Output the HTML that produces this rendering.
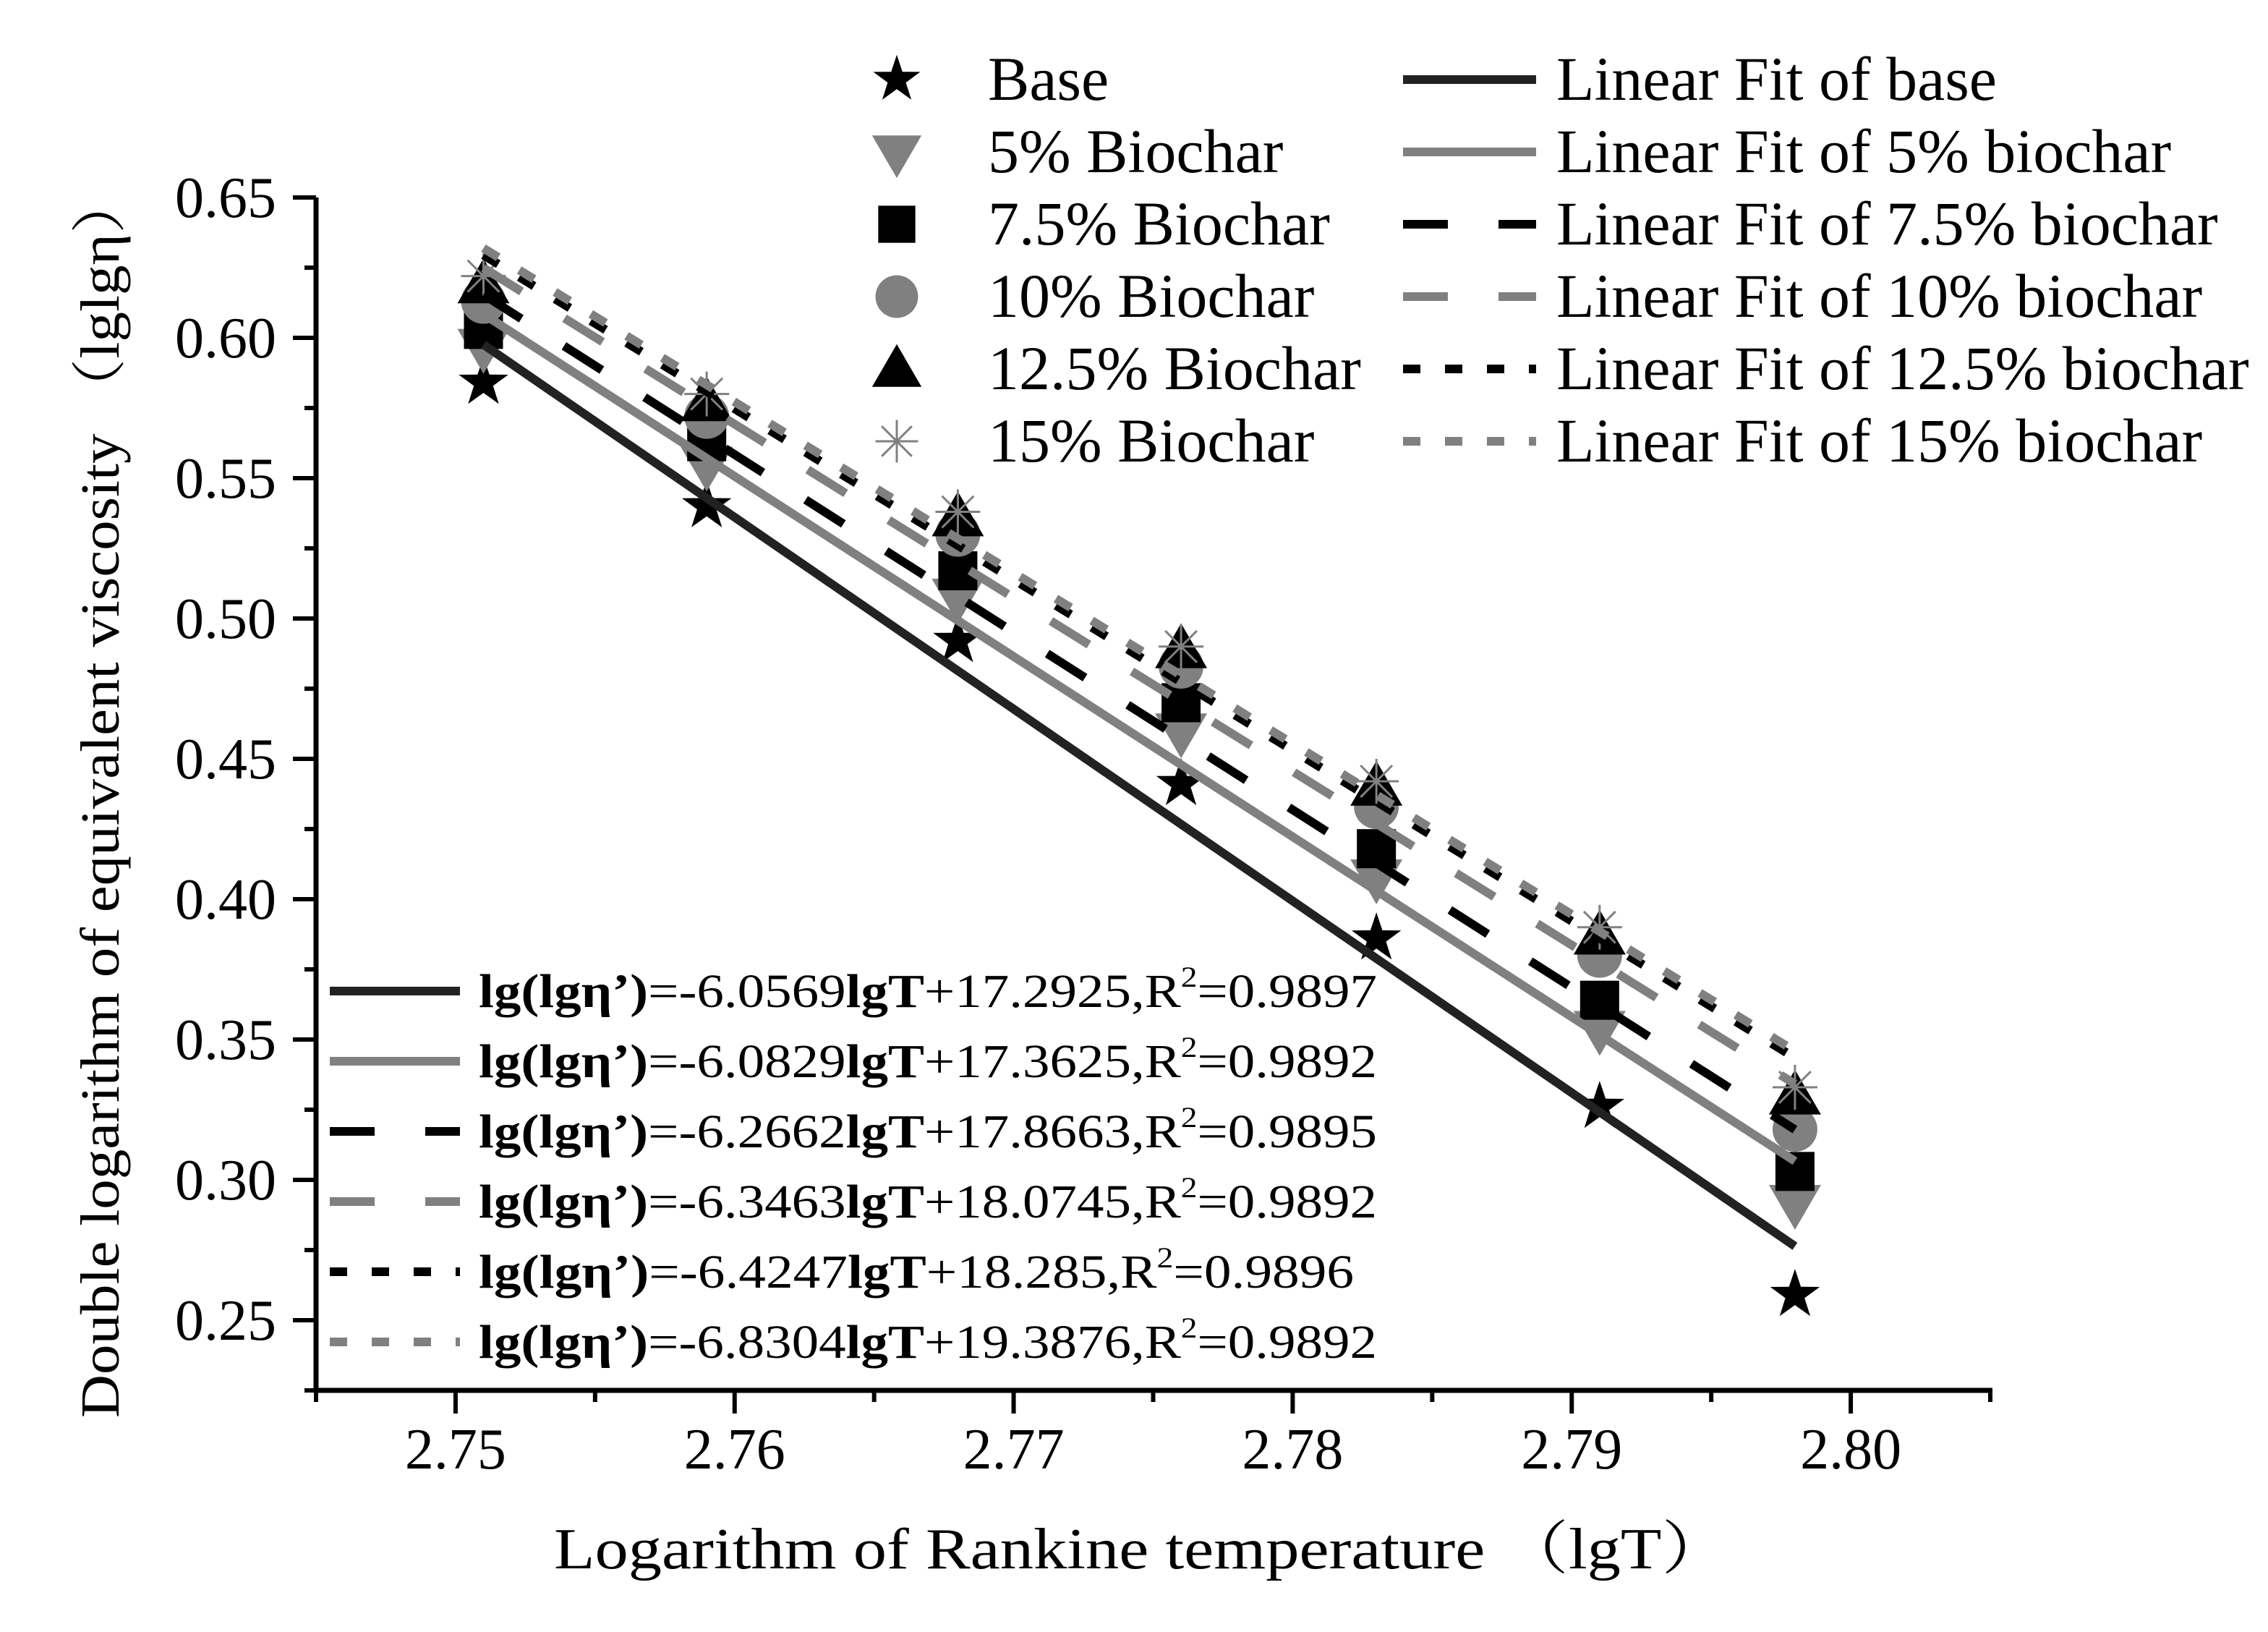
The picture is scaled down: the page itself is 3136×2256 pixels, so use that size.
<!DOCTYPE html>
<html><head><meta charset="utf-8"><style>
html,body{margin:0;padding:0;background:#fff}
svg{display:block;font-family:"Liberation Serif","Noto Serif CJK SC",serif}
</style></head><body>
<svg id="chart" width="3136" height="2256" viewBox="0 0 3136 2256" xmlns="http://www.w3.org/2000/svg">
<g id="plot"></g>
<g id="axes"></g>
<text x="766" y="2168" font-size="80" textLength="1624" lengthAdjust="spacingAndGlyphs">Logarithm of  Rankine temperature （lgT）</text>
<text transform="translate(164,1960) rotate(-90)" x="0" y="0" font-size="76" textLength="1720" lengthAdjust="spacingAndGlyphs">Double logarithm of equivalent viscosity （lglgη）</text>
<g id="legend"></g>
<g id="eqlegend"></g>
</svg>
<script>
const xValues = [2.751, 2.759, 2.768, 2.776, 2.783, 2.791, 2.798];
const seriesNames = ["Base", "5% Biochar", "7.5% Biochar", "10% Biochar", "12.5% Biochar", "15% Biochar"];
const fitNames = ["Linear Fit of base", "Linear Fit of 5% biochar", "Linear Fit of 7.5% biochar", "Linear Fit of 10% biochar", "Linear Fit of 12.5% biochar", "Linear Fit of 15% biochar"];
const yBase = [0.584, 0.540, 0.492, 0.441, 0.386, 0.326, 0.259];
const y5 = [0.597, 0.555, 0.508, 0.460, 0.408, 0.354, 0.292];
const y75 = [0.603, 0.563, 0.517, 0.470, 0.418, 0.364, 0.303];
const y10 = [0.613, 0.572, 0.530, 0.483, 0.433, 0.380, 0.318];
const y125 = [0.619, 0.577, 0.536, 0.489, 0.440, 0.387, 0.330];
const y15 = [0.622, 0.580, 0.538, 0.490, 0.442, 0.390, 0.333];
const eqSlopes = ["-6.0569", "-6.0829", "-6.2662", "-6.3463", "-6.4247", "-6.8304"];
const eqIntercepts = ["+17.2925", "+17.3625", "+17.8663", "+18.0745", "+18.285", "+19.3876"];
const eqR2 = ["=0.9897", "=0.9892", "=0.9895", "=0.9892", "=0.9896", "=0.9892"];
const xTicks = ["2.75", "2.76", "2.77", "2.78", "2.79", "2.80"];
const yTicks = ["0.25", "0.30", "0.35", "0.40", "0.45", "0.50", "0.55", "0.60", "0.65"];

const NS = "http://www.w3.org/2000/svg";
const X0 = 2.745, X1 = 2.805, PX0 = 437, PX1 = 2752;
const Y0 = 0.225, Y1 = 0.65, PY0 = 1922, PY1 = 273;
const sx = v => PX0 + (v - X0) / (X1 - X0) * (PX1 - PX0);
const sy = v => PY0 - (v - Y0) / (Y1 - Y0) * (PY0 - PY1);
function mk(tag, attrs, parent) { const e = document.createElementNS(NS, tag); for (const k in attrs) e.setAttribute(k, attrs[k]); parent.appendChild(e); return e; }

const allY = [yBase, y5, y75, y10, y125, y15];
const styles = [
  {marker: "star", color: "#000", line: "#222", dash: ""},
  {marker: "tri-down", color: "#808080", line: "#808080", dash: ""},
  {marker: "square", color: "#000", line: "#000", dash: "62 70"},
  {marker: "circle", color: "#808080", line: "#808080", dash: "62 70"},
  {marker: "tri-up", color: "#000", line: "#000", dash: "24 34"},
  {marker: "asterisk", color: "#808080", line: "#808080", dash: "24 34"}
];

function drawMarker(type, cx, cy, s, color, parent) {
  let e;
  if (type === "star") {
    let pts = [];
    for (let i = 0; i < 10; i++) { const r = i % 2 ? 14 * s : 36 * s; const a = -Math.PI / 2 + i * Math.PI / 5; pts.push((cx + r * Math.cos(a)).toFixed(1) + "," + (cy + r * Math.sin(a)).toFixed(1)); }
    e = mk("polygon", {points: pts.join(" "), fill: color}, parent);
  } else if (type === "tri-down") {
    e = mk("polygon", {points: `${cx - 36 * s},${cy - 24 * s} ${cx + 36 * s},${cy - 24 * s} ${cx},${cy + 38 * s}`, fill: color}, parent);
  } else if (type === "tri-up") {
    e = mk("polygon", {points: `${cx - 36 * s},${cy + 26 * s} ${cx + 36 * s},${cy + 26 * s} ${cx},${cy - 36 * s}`, fill: color}, parent);
  } else if (type === "square") {
    e = mk("rect", {x: cx - 27 * s, y: cy - 27 * s, width: 54 * s, height: 54 * s, fill: color}, parent);
  } else if (type === "circle") {
    e = mk("circle", {cx: cx, cy: cy, r: 31 * s, fill: color}, parent);
  } else {
    e = mk("g", {stroke: color, "stroke-width": 3}, parent);
    for (let i = 0; i < 4; i++) { const a = i * Math.PI / 4; const r = 31 * s; mk("line", {x1: cx - r * Math.cos(a), y1: cy - r * Math.sin(a), x2: cx + r * Math.cos(a), y2: cy + r * Math.sin(a)}, e); }
  }
  return e;
}

const plot = document.getElementById("plot");
allY.forEach((ys, si) => {
  const g = mk("g", {}, plot);
  
  
  ys.forEach((v, i) => {
    const m = drawMarker(styles[si].marker, sx(xValues[i]), sy(v), 1, styles[si].color, g);
    
    
  });
});
allY.forEach((ys, si) => {
  const n = xValues.length;
  const mx = xValues.reduce((a, b) => a + b) / n, my = ys.reduce((a, b) => a + b) / n;
  let num = 0, den = 0;
  for (let i = 0; i < n; i++) { num += (xValues[i] - mx) * (ys[i] - my); den += (xValues[i] - mx) ** 2; }
  const b = num / den, a = my - b * mx;
  const xa = xValues[0], xb = xValues[n - 1];
  const l = mk("line", {x1: sx(xa), y1: sy(a + b * xa), x2: sx(xb), y2: sy(a + b * xb), stroke: styles[si].line, "stroke-width": 12, "stroke-dasharray": styles[si].dash}, plot);
  
  
});

const axes = document.getElementById("axes");
mk("line", {x1: PX0, y1: PY1, x2: PX0, y2: PY0 + 3, stroke: "#000", "stroke-width": 7}, axes);
mk("line", {x1: PX0 - 3, y1: PY0, x2: PX1 + 3, y2: PY0, stroke: "#000", "stroke-width": 7}, axes);
for (let k = 0; k <= 17; k++) {
  const v = Y0 + k * 0.025, major = k % 2 === 1;
  mk("line", {x1: PX0, y1: sy(v), x2: PX0 - (major ? 32 : 16), y2: sy(v), stroke: "#000", "stroke-width": 6}, axes);
}
yTicks.forEach(t => {
  const e = mk("text", {x: 382, y: sy(parseFloat(t)) + 27, "font-size": 80, "text-anchor": "end"}, axes);
  e.textContent = t;
  
  
});
for (let k = 0; k <= 12; k++) {
  const v = X0 + k * 0.005, major = k % 2 === 1;
  mk("line", {x1: sx(v), y1: PY0, x2: sx(v), y2: PY0 + (major ? 32 : 16), stroke: "#000", "stroke-width": 6}, axes);
}
xTicks.forEach(t => {
  const e = mk("text", {x: sx(parseFloat(t)), y: 2030, "font-size": 80, "text-anchor": "middle"}, axes);
  e.textContent = t;
  
  
});

const leg = document.getElementById("legend");
seriesNames.forEach((nm, i) => {
  const cy = 110 + i * 100;
  const g = mk("g", {}, leg);
  
  
  drawMarker(styles[i].marker, 1240, cy, 0.95, styles[i].color, g);
  const t = mk("text", {x: 1366, y: cy + 28, "font-size": 86}, g);
  t.textContent = nm;
  const g2 = mk("g", {}, leg);
  
  
  mk("line", {x1: 1940, y1: cy, x2: 2124, y2: cy, stroke: styles[i].line, "stroke-width": 12, "stroke-dasharray": styles[i].dash}, g2);
  const t2 = mk("text", {x: 2152, y: cy + 28, "font-size": 86}, g2);
  t2.textContent = fitNames[i];
});

const eq = document.getElementById("eqlegend");
const eqEnds = [1904, 1904, 1904, 1904, 1872, 1904];
eqSlopes.forEach((s, i) => {
  const cy = 1370 + i * 97;
  const g = mk("g", {}, eq);
  
  
  mk("line", {x1: 456, y1: cy, x2: 636, y2: cy, stroke: styles[i].line, "stroke-width": 12, "stroke-dasharray": styles[i].dash}, g);
  const t = mk("text", {x: 662, y: cy + 22, "font-size": 66, textLength: eqEnds[i] - 662, lengthAdjust: "spacingAndGlyphs"}, g);
  const parts = [["lg(lgη’)", "bold"], ["=" + s, "normal"], ["lgT", "bold"], [eqIntercepts[i] + ",R", "normal"], ["2", "sup"], [eqR2[i], "normal"]];
  parts.forEach(p => {
    const ts = mk("tspan", {}, t);
    if (p[1] === "bold") ts.setAttribute("font-weight", "bold");
    if (p[1] === "sup") { ts.setAttribute("font-size", "40"); ts.setAttribute("dy", "-28"); }
    if (p[0] === eqR2[i]) ts.setAttribute("dy", "28");
    ts.textContent = p[0];
  });
});
</script>
</body></html>
